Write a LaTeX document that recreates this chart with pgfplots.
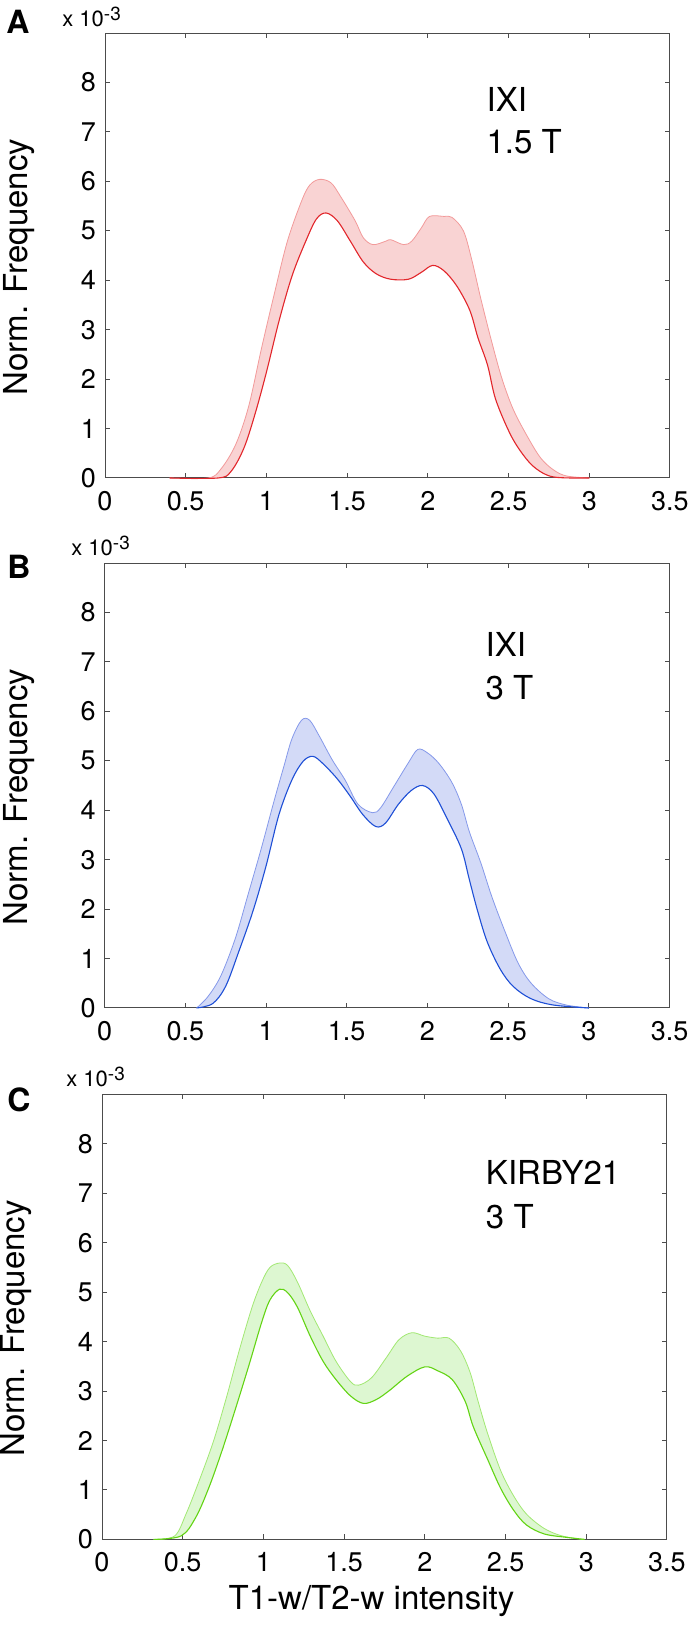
\documentclass[border=0pt]{standalone}
\usepackage{fontspec}
\setmainfont{TeX Gyre Heros}
\usepackage{pgfplots}
\pgfplotsset{compat=1.18}
\usepgfplotslibrary{fillbetween}

\definecolor{redLo}{HTML}{E2262B}
\definecolor{redUp}{HTML}{F29A9A}
\definecolor{redFill}{HTML}{F9D3D3}
\definecolor{bluLo}{HTML}{1E4FD6}
\definecolor{bluUp}{HTML}{8599EA}
\definecolor{bluFill}{HTML}{D3DAF7}
\definecolor{grnLo}{HTML}{63D414}
\definecolor{grnUp}{HTML}{A2E873}
\definecolor{grnFill}{HTML}{DDF7D1}

\pgfplotsset{
  histpanel/.style={
    scale only axis,
    width=282.5pt, height=222.5pt,
    xmin=0, xmax=3.5, ymin=0, ymax=9,
    xtick={0,0.5,...,3.5},
    ytick={0,1,...,8},
    scaled ticks=false,
    xticklabel style={/pgf/number format/fixed, yshift=-3pt},
    yticklabel style={xshift=-1pt},
    tick label style={font=\fontsize{13.5}{15}\selectfont},
    /pgf/number format/assume math mode=true,
    major tick length=2.5pt,
    tick align=inside,
    axis line style={black!70, line width=0.5pt},
    tick style={black!70, line width=0.5pt},
    ylabel={Norm. Frequency},
    every axis y label/.style={at={(axis description cs:-0.152,0.474)}, rotate=90, anchor=center,
      font=\fontsize{16.5}{18}\selectfont},
    every axis x label/.style={at={(axis description cs:0.477,-0.138)}, anchor=center,
      font=\fontsize{16.5}{18}\selectfont},
    clip=false,
  },
  lo/.style={line width=0.55pt, smooth, tension=0.55},
  up/.style={line width=0.4pt, smooth, tension=0.55},
}

\newcommand{\annot}{\fontsize{16.5}{20}\selectfont}
\newcommand{\panlab}{\fontsize{16}{18}\selectfont\bfseries}
\newcommand{\expo}{\fontsize{11}{13}\selectfont x 10\raisebox{0.55ex}{\fontsize{9.5}{11}\selectfont -3}}

\begin{document}
\begin{tikzpicture}

% ---------------- A : IXI 1.5 T
\begin{axis}[histpanel, at={(52.5pt,-16.5pt)}, anchor=north west]
\addplot[name path=upA, up, redUp] coordinates {
 (0.40,0) (0.64,0) (0.72,0.19) (0.81,0.68) (0.89,1.45) (0.97,2.63) (1.05,3.74)
 (1.13,4.79) (1.22,5.62) (1.27,5.93) (1.33,6.04) (1.40,5.97) (1.46,5.69)
 (1.55,5.20) (1.60,4.86) (1.66,4.72) (1.74,4.79) (1.77,4.82) (1.85,4.72)
 (1.90,4.79) (1.96,5.06) (2.01,5.29) (2.10,5.29) (2.15,5.27) (2.22,5.00)
 (2.27,4.44) (2.33,3.60) (2.40,2.70) (2.46,2.00) (2.53,1.38) (2.62,0.82)
 (2.70,0.40) (2.78,0.16) (2.86,0.04) (3.00,0)
};
\addplot[name path=loA, lo, redLo] coordinates {
 (0.40,0) (0.70,0) (0.78,0.13) (0.86,0.60) (0.93,1.30) (1.00,2.14) (1.08,3.20)
 (1.16,4.10) (1.245,4.80) (1.31,5.24) (1.37,5.36) (1.44,5.20) (1.52,4.79)
 (1.60,4.37) (1.68,4.13) (1.77,4.02) (1.88,4.02) (1.96,4.16) (2.03,4.30)
 (2.10,4.19) (2.18,3.88) (2.26,3.39) (2.31,2.84) (2.37,2.28) (2.42,1.59)
 (2.51,0.89) (2.59,0.47) (2.67,0.19) (2.78,0.02) (3.00,0)
};
\addplot[redFill] fill between[of=upA and loA];
\node[anchor=base west, font=\annot] at (axis cs:2.32,7.42) {IXI};
\node[anchor=base west, font=\annot] at (axis cs:2.32,6.57) {1.5 T};
\end{axis}
\node[font=\panlab] at (9pt,-11pt) {A};
\node[anchor=west, inner sep=0pt] at (31pt,-8.3pt) {\expo};

% ---------------- B : IXI 3 T
\begin{axis}[histpanel, at={(52.3pt,-281.5pt)}, anchor=north west]
\addplot[name path=upB, up, bluUp] coordinates {
 (0.57,0) (0.64,0.23) (0.72,0.65) (0.81,1.41) (0.89,2.31) (0.97,3.22) (1.05,4.19)
 (1.11,4.88) (1.16,5.44) (1.22,5.82) (1.27,5.82) (1.33,5.50) (1.41,5.02)
 (1.49,4.61) (1.57,4.12) (1.66,3.95) (1.71,4.05) (1.79,4.47) (1.88,4.95)
 (1.94,5.23) (2.00,5.16) (2.07,4.95) (2.15,4.57) (2.21,4.12) (2.26,3.56)
 (2.33,2.94) (2.40,2.24) (2.48,1.55) (2.56,0.92) (2.64,0.51) (2.75,0.19)
 (2.86,0.06) (3.00,0)
};
\addplot[name path=loB, lo, bluLo] coordinates {
 (0.57,0) (0.67,0.09) (0.75,0.44) (0.83,1.13) (0.92,1.97) (1.00,2.87) (1.08,3.91)
 (1.16,4.61) (1.23,4.99) (1.29,5.09) (1.35,4.95) (1.44,4.64) (1.52,4.29)
 (1.60,3.91) (1.68,3.67) (1.74,3.74) (1.82,4.12) (1.90,4.40) (1.97,4.50)
 (2.04,4.33) (2.12,3.84) (2.21,3.22) (2.26,2.59) (2.31,1.97) (2.37,1.34)
 (2.45,0.79) (2.53,0.44) (2.64,0.19) (2.78,0.06) (3.00,0)
};
\addplot[bluFill] fill between[of=upB and loB];
\node[anchor=base west, font=\annot] at (axis cs:2.317,7.11) {IXI};
\node[anchor=base west, font=\annot] at (axis cs:2.317,6.24) {3 T};
\end{axis}
\node[font=\panlab] at (9.5pt,-283.5pt) {B};
\node[anchor=west, inner sep=0pt] at (35.5pt,-273pt) {\expo};

% ---------------- C : KIRBY21 3 T
\begin{axis}[histpanel, at={(51pt,-547.2pt)}, anchor=north west,
  xlabel={T1-w/T2-w intensity}]
\addplot[name path=upC, up, grnUp] coordinates {
 (0.32,0) (0.45,0.07) (0.52,0.51) (0.60,1.17) (0.69,1.98) (0.77,2.86) (0.85,3.82)
 (0.93,4.70) (0.99,5.21) (1.04,5.50) (1.10,5.59) (1.15,5.54) (1.21,5.21)
 (1.29,4.62) (1.37,4.11) (1.45,3.60) (1.54,3.19) (1.59,3.12) (1.67,3.27)
 (1.76,3.67) (1.84,4.04) (1.92,4.18) (2.00,4.11) (2.08,4.07) (2.15,4.07)
 (2.22,3.82) (2.28,3.38) (2.33,2.79) (2.39,2.13) (2.47,1.39) (2.55,0.88)
 (2.63,0.51) (2.74,0.22) (2.85,0.07) (2.98,0)
};
\addplot[name path=loC, lo, grnLo] coordinates {
 (0.32,0) (0.49,0.07) (0.58,0.44) (0.66,1.03) (0.74,1.76) (0.82,2.57) (0.91,3.52)
 (0.99,4.40) (1.04,4.84) (1.10,5.06) (1.15,4.99) (1.21,4.70) (1.29,4.11)
 (1.37,3.60) (1.45,3.23) (1.54,2.90) (1.62,2.75) (1.70,2.83) (1.78,3.01)
 (1.89,3.30) (2.00,3.49) (2.08,3.41) (2.17,3.23) (2.25,2.79) (2.30,2.28)
 (2.39,1.61) (2.47,1.03) (2.55,0.59) (2.63,0.29) (2.74,0.11) (2.88,0.04)
 (2.99,0)
};
\addplot[grnFill] fill between[of=upC and loC];
\node[anchor=base west, font=\annot] at (axis cs:2.335,7.17) {KIRBY21};
\node[anchor=base west, font=\annot] at (axis cs:2.335,6.28) {3 T};
\end{axis}
\node[font=\panlab] at (9.5pt,-550pt) {C};
\node[anchor=west, inner sep=0pt] at (33pt,-538.5pt) {\expo};

\pgfresetboundingbox
\path[use as bounding box] (0,0) rectangle (347.5pt,-814.5pt);
\end{tikzpicture}
\end{document}
